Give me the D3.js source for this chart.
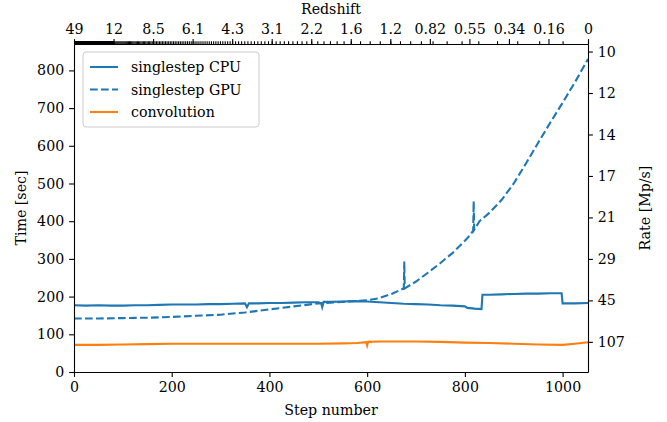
<!DOCTYPE html>
<html>
<head>
<meta charset="utf-8">
<script src="https://cdn.jsdelivr.net/npm/d3@7"></script>
<style>
  body { margin: 0; background: #fff; }
  svg text { font-family: "DejaVu Serif", serif; font-size: 14.2px; fill: #000; }
  .axis path, .axis line { stroke: #000; stroke-width: 1.1px; }
</style>
</head>
<body>
<div id="chart"></div>
<script>
// singlestep CPU (solid)
const cpuSteps = [0, 25, 50, 75, 100, 125, 150, 175, 200, 225, 250, 275, 300, 325, 350, 354, 358, 375, 400, 425, 450, 475, 500, 506, 508, 511, 525, 550, 575, 600, 625, 650, 675, 700, 725, 750, 775, 800, 805, 820, 834, 836, 850, 875, 900, 925, 950, 975, 998, 1000, 1025, 1052];
const cpuTime  = [177, 176, 177, 176, 176, 177, 177, 178, 179, 179, 179, 180, 180, 181, 182, 172, 182, 182, 183, 183, 184, 185, 185, 182, 172, 186, 186, 187, 188, 187, 185, 183, 181, 180, 179, 177, 176, 174, 170, 168, 167, 205, 205, 206, 207, 208, 208, 209, 209, 182, 182, 183];

// singlestep GPU (dashed)
const gpuSteps = [0, 50, 100, 150, 200, 250, 300, 350, 400, 450, 500, 550, 600, 625, 650, 675, 676, 677, 700, 725, 750, 775, 800, 810, 817, 818, 819, 830, 850, 875, 900, 925, 950, 975, 1000, 1025, 1052];
const gpuTime  = [142, 142, 143, 144, 146, 149, 152, 158, 166, 174, 182, 186, 190, 196, 207, 222, 293, 222, 240, 264, 289, 316, 348, 362, 375, 453, 377, 400, 422, 456, 500, 553, 608, 662, 714, 768, 830];

// convolution
const convSteps = [0, 50, 100, 150, 200, 250, 300, 350, 400, 450, 500, 550, 580, 598, 600, 602, 625, 650, 700, 750, 800, 850, 900, 950, 1000, 1025, 1052];
const convTime  = [72, 72, 73, 74, 75, 75, 75, 75, 75, 75, 75, 76, 77, 79, 70, 80, 81, 81, 81, 80, 78, 77, 75, 73, 72, 75, 79];

// top axis: redshift labels (evenly spaced in step number)
const redshiftLabels = ["49", "12", "8.5", "6.1", "4.3", "3.1", "2.2", "1.6", "1.2", "0.82", "0.55", "0.34", "0.16", "0"];
// right axis: rate labels and the time values they sit at
const rateLabels = ["107", "45", "29", "21", "17", "14", "12", "10"];
const rateTickTimes = [80, 190, 300, 410, 520, 630, 740, 850];

const W = 667, H = 422;
const margin = {top: 44, right: 79, bottom: 50, left: 74};
const width = W - margin.left - margin.right;
const height = H - margin.top - margin.bottom;
const xMax = 1052, yMax = 870;
const FONT = '"DejaVu Serif", serif';

const x = d3.scaleLinear().domain([0, xMax]).range([0, width]);
const y = d3.scaleLinear().domain([0, yMax]).range([height, 0]);

const svg = d3.select("#chart").append("svg")
    .attr("width", W).attr("height", H)
  .append("g")
    .attr("transform", `translate(${margin.left},${margin.top})`);

const line = (xs, ys) => d3.line()
    .x((d, i) => x(xs[i]))
    .y((d, i) => y(ys[i]))(xs);

svg.append("path").attr("d", line(cpuSteps, cpuTime))
    .attr("fill", "none").attr("stroke", "#1f77b4").attr("stroke-width", 2.1);
svg.append("path").attr("d", line(gpuSteps, gpuTime))
    .attr("fill", "none").attr("stroke", "#1f77b4").attr("stroke-width", 2.1)
    .attr("stroke-dasharray", "7.7,3.3");
svg.append("path").attr("d", line(convSteps, convTime))
    .attr("fill", "none").attr("stroke", "#ff7f0e").attr("stroke-width", 2.1);

const styleAxis = g => g.attr("class", "axis").attr("font-family", FONT).attr("font-size", 14.2);

// bottom / left axes
svg.append("g").call(styleAxis)
    .attr("transform", `translate(0,${height})`)
    .call(d3.axisBottom(x).tickValues([0, 200, 400, 600, 800, 1000]).tickFormat(d3.format("d"))
      .tickSize(4.9).tickPadding(4.9).tickSizeOuter(0));
svg.append("g").call(styleAxis)
    .call(d3.axisLeft(y).tickValues(d3.range(0, 801, 100)).tickSize(4.9).tickPadding(4.9).tickSizeOuter(0));

// right axis (rate)
svg.append("g").call(styleAxis)
    .attr("transform", `translate(${width},0)`)
    .call(d3.axisRight(y).tickValues(rateTickTimes)
      .tickFormat((d, i) => rateLabels[i]).tickSize(4.9).tickPadding(4.9).tickSizeOuter(0));

// top axis (redshift)
const majorSteps = redshiftLabels.map((d, i) => i * xMax / (redshiftLabels.length - 1));
const zToStep = d3.scaleLinear()
    .domain(redshiftLabels.map(z => Math.log(1 + (+z))))
    .range(majorSteps);
const minorSteps = d3.range(0, 490, 1).map(j => zToStep(Math.log(1 + j / 10)));

svg.append("g").call(styleAxis)
    .call(d3.axisTop(x).tickValues(minorSteps).tickFormat("").tickSize(2.8).tickSizeOuter(0))
    .selectAll("line").attr("stroke-width", 0.8);
svg.append("g").call(styleAxis)
    .call(d3.axisTop(x).tickValues(majorSteps)
      .tickFormat((d, i) => redshiftLabels[i]).tickSize(4.9).tickPadding(4.9).tickSizeOuter(0));

// axis labels
svg.append("text").attr("x", width / 2).attr("y", height + 43)
    .attr("text-anchor", "middle").text("Step number");
svg.append("text").attr("x", width / 2).attr("y", -30)
    .attr("text-anchor", "middle").text("Redshift");
svg.append("text").attr("transform", "rotate(-90)")
    .attr("x", -height / 2).attr("y", -48)
    .attr("text-anchor", "middle").text("Time [sec]");
svg.append("text").attr("transform", "rotate(-90)")
    .attr("x", -height / 2).attr("y", width + 62)
    .attr("text-anchor", "middle").text("Rate [Mp/s]");

// legend
const legend = svg.append("g").attr("transform", "translate(9,8)");
legend.append("rect").attr("width", 176).attr("height", 75).attr("rx", 3)
    .attr("fill", "#fff").attr("fill-opacity", 0.8).attr("stroke", "#ccc");
const items = [
  {label: "singlestep CPU", color: "#1f77b4", dash: null},
  {label: "singlestep GPU", color: "#1f77b4", dash: "7.7,3.3"},
  {label: "convolution", color: "#ff7f0e", dash: null}
];
items.forEach((d, i) => {
  const gy = 15 + i * 22.5;
  legend.append("line").attr("x1", 7).attr("x2", 35).attr("y1", gy).attr("y2", gy)
      .attr("stroke", d.color).attr("stroke-width", 2.1)
      .attr("stroke-dasharray", d.dash);
  legend.append("text").attr("x", 48).attr("y", gy + 5).text(d.label);
});
</script>
</body>
</html>
